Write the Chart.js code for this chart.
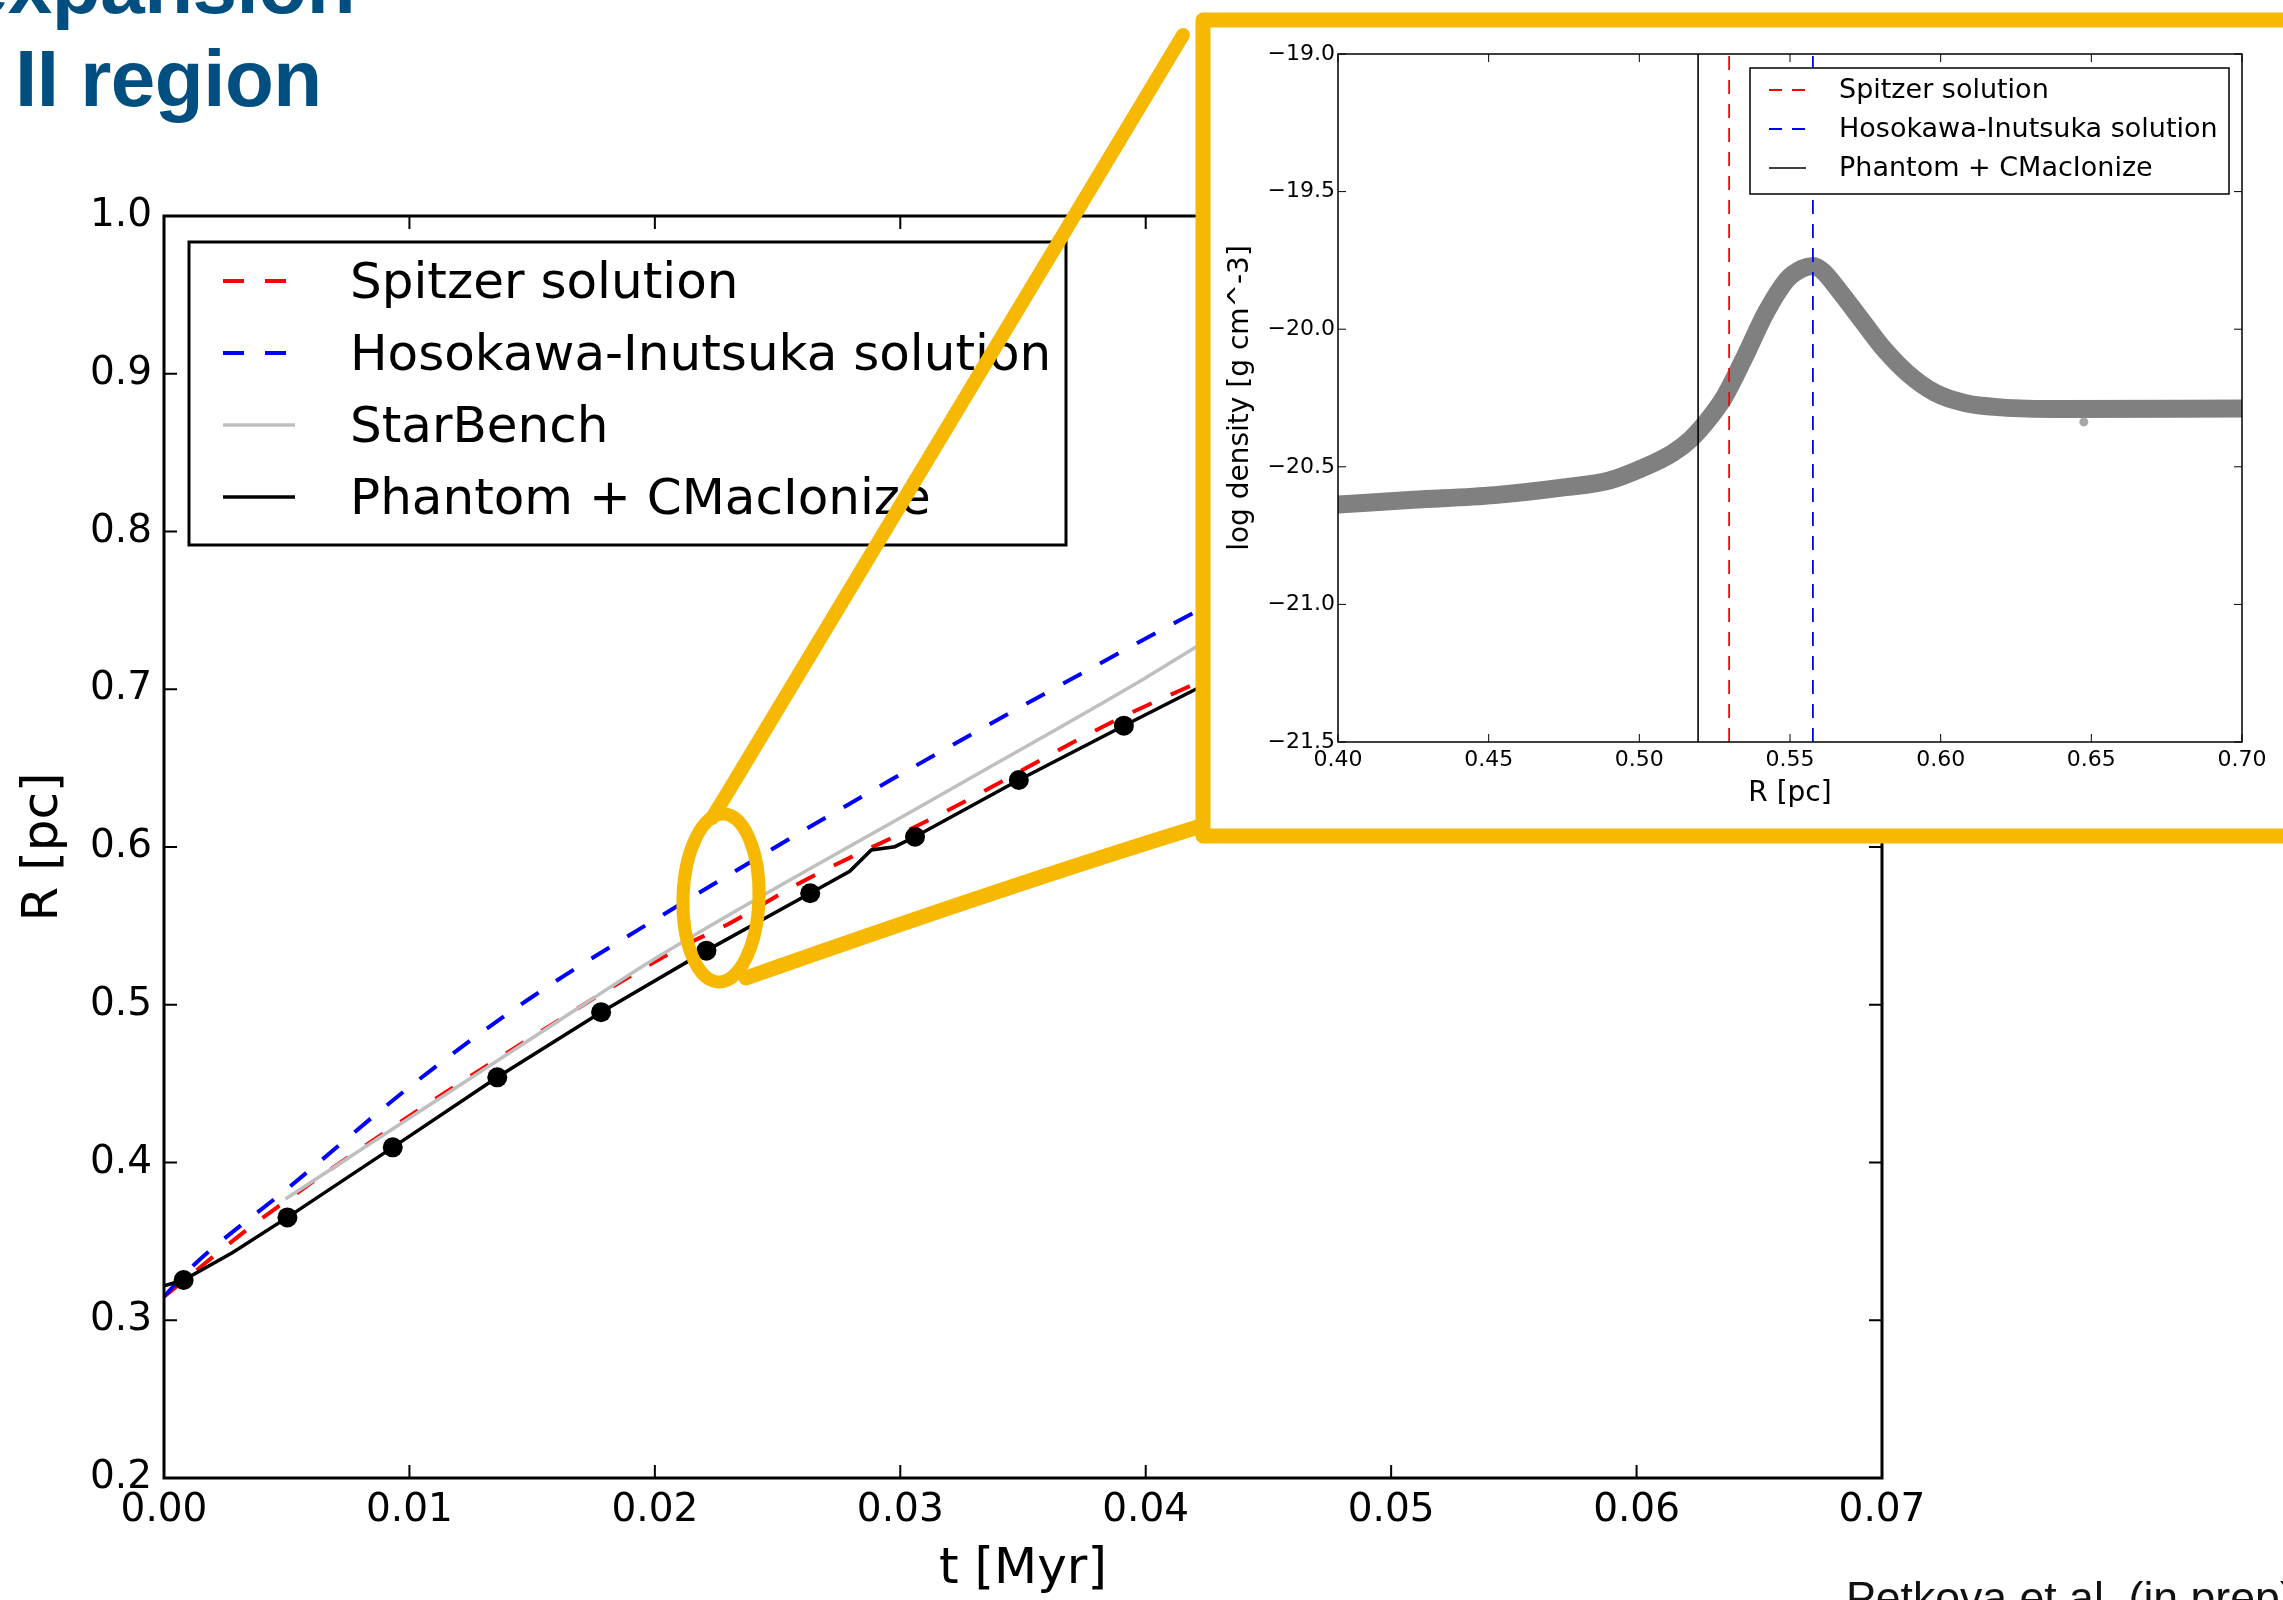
<!DOCTYPE html>
<html>
<head>
<meta charset="utf-8">
<script src="https://cdn.jsdelivr.net/npm/chart.js@4.4.1/dist/chart.umd.min.js"></script>
<style>
    body { margin: 0; width: 2283px; height: 1600px; overflow: hidden; background: #fff; position: relative; }
    canvas { position: absolute; }
    #main { left: 0; top: 0; }
    #inset { left: 1185px; top: 5px; }
    .slide-title { position: absolute; font-family: "Liberation Sans", Arial, sans-serif; font-weight: bold;
        font-size: 80px; line-height: 80px; letter-spacing: -0.5px; color: #004f80; white-space: nowrap; }
    #credit { position: absolute; left: 1846px; top: 1576px; font-family: "Liberation Sans", Arial, sans-serif;
        font-size: 44.6px; line-height: 44.6px; color: #111; white-space: nowrap; }
</style>
</head>
<body>
<canvas id="main" width="2283" height="1600"></canvas>
<canvas id="inset" width="1098" height="845"></canvas>
<div class="slide-title" style="right: 1928px; top: -54px;">expansion</div>
<div class="slide-title" style="left: 15px; top: 39px;">II region</div>
<div id="credit">Petkova et al. (in prep)</div>
<script>
// ---- main plot: shell radius R [pc] against t [Myr] ----
const spitzerT = [0, 0.0042, 0.0174, 0.0211, 0.0230, 0.0260, 0.0317, 0.0388, 0.0428];
const spitzerR = [0.315, 0.367, 0.503, 0.5368, 0.5512, 0.578, 0.6213, 0.6805, 0.709];

const hosokawaT = [0, 0.00109, 0.00509, 0.01024, 0.01481, 0.0202, 0.02957, 0.0414, 0.0430];
const hosokawaR = [0.315, 0.3332, 0.3842, 0.4508, 0.503, 0.5558, 0.6421, 0.7439, 0.757];

const starbenchT = [0.00495, 0.01738, 0.0198, 0.032, 0.03997, 0.0414, 0.0430];
const starbenchR = [0.3769, 0.503, 0.5273, 0.6361, 0.707, 0.7206, 0.736];

const phantomT = [0, 0.0008, 0.0028, 0.00503, 0.00932, 0.01358, 0.01781, 0.0221, 0.02633, 0.02794, 0.02882, 0.02978, 0.0306, 0.03483, 0.03911, 0.0434];
const phantomR = [0.3218, 0.3255, 0.3429, 0.3652, 0.4096, 0.4540, 0.4953, 0.5343, 0.5707, 0.5846, 0.5981, 0.6002, 0.6065, 0.6425, 0.6769, 0.7108];

// snapshots marked with dots
const markT = [0.0008, 0.00503, 0.00932, 0.01358, 0.01781, 0.0221, 0.02633, 0.0306, 0.03483, 0.03911];
const markR = [0.3255, 0.3652, 0.4096, 0.4540, 0.4953, 0.5343, 0.5707, 0.6065, 0.6425, 0.6769];

const mainXTicks = [0, 0.07, 0.01];
const mainYTicks = [0.2, 1.0, 0.1];

// ---- inset: density profile, log rho against R [pc] ----
const profileR = [0.400, 0.425, 0.452, 0.475, 0.490, 0.502, 0.511, 0.517, 0.522, 0.528, 0.535, 0.542, 0.549, 0.554, 0.5576,
    0.561, 0.567, 0.574, 0.581, 0.589, 0.598, 0.608, 0.620, 0.640, 0.700];
const profileRho = [-20.637, -20.62, -20.603, -20.575, -20.55, -20.50, -20.45, -20.40, -20.34, -20.25, -20.10, -19.94, -19.82, -19.78, -19.77,
    -19.79, -19.87, -19.97, -20.07, -20.16, -20.23, -20.268, -20.284, -20.29, -20.288];
const strayR = [0.6475];
const strayRho = [-20.337];

const frontSpitzer = 0.5298;
const frontHosokawa = 0.5576;
const frontPhantom = 0.5195;

const insetXTicks = [0.40, 0.70, 0.05];
const insetYTicks = [-21.5, -19.0, 0.5];

var red = "#ff0000";
var blue = "#0000ff";
var silver = "#bfbfbf";
var yellow = "#f6b800";

Chart.defaults.font.family = "'DejaVu Sans', sans-serif";
Chart.defaults.color = "#000";

const zip = (xs, ys) => xs.map((x, i) => ({ x: x, y: ys[i] }));
const vline = (x, range) => [{ x: x, y: range[0] }, { x: x, y: range[1] }];
const minus = (s) => s.replace("-", "\u2212");

// inward ticks on all four sides plus the box, matplotlib classic look
function drawFrame(chart, o) {
    const { ctx, chartArea: a, scales: { x, y } } = chart;
    ctx.save();
    ctx.strokeStyle = "#000";
    ctx.lineWidth = o.tickWidth;
    ctx.beginPath();
    for (const t of x.ticks) {
        let px = x.getPixelForValue(t.value);
        ctx.moveTo(px, a.bottom); ctx.lineTo(px, a.bottom - o.tickLen);
        ctx.moveTo(px, a.top); ctx.lineTo(px, a.top + o.tickLen);
    }
    for (const t of y.ticks) {
        let py = y.getPixelForValue(t.value);
        ctx.moveTo(a.left, py); ctx.lineTo(a.left + o.tickLen, py);
        ctx.moveTo(a.right, py); ctx.lineTo(a.right - o.tickLen, py);
    }
    ctx.stroke();
    ctx.lineWidth = o.frameWidth;
    ctx.strokeRect(a.left, a.top, a.right - a.left, a.bottom - a.top);
    ctx.restore();
}

function drawLegend(chart, o) {
    const ctx = chart.ctx;
    const items = chart.data.datasets.filter(d => d.inLegend).sort((a, b) => a.legendRank - b.legendRank);
    ctx.save();
    ctx.fillStyle = "#fff";
    ctx.fillRect(o.box[0], o.box[1], o.box[2], o.box[3]);
    ctx.strokeStyle = "#000";
    ctx.lineWidth = o.frameWidth;
    ctx.strokeRect(o.box[0], o.box[1], o.box[2], o.box[3]);
    ctx.font = o.font;
    ctx.textBaseline = "middle";
    items.forEach((d, i) => {
        let yy = o.rows[i];
        ctx.beginPath();
        ctx.setLineDash(d.legendDash || []);
        ctx.strokeStyle = d.borderColor;
        ctx.lineWidth = d.borderWidth;
        ctx.moveTo(o.lineX[0], yy);
        ctx.lineTo(o.lineX[1], yy);
        ctx.stroke();
        ctx.setLineDash([]);
        ctx.fillStyle = "#000";
        ctx.fillText(d.label, o.textX, yy + o.textDy);
    });
    ctx.restore();
}

// the hand drawn yellow loop around the zoomed region and the lines to the inset
function drawLoupe(ctx) {
    ctx.save();
    ctx.strokeStyle = yellow;
    ctx.lineCap = "round";
    ctx.lineJoin = "round";
    ctx.lineWidth = 13;
    ctx.beginPath();
    ctx.ellipse(721, 898, 38, 84, 0.03, 0, Math.PI * 2);
    ctx.stroke();
    ctx.lineWidth = 14;
    ctx.beginPath();
    ctx.moveTo(712, 818);
    ctx.lineTo(728, 792);
    ctx.lineTo(1183, 35);
    ctx.stroke();
    ctx.lineWidth = 15;
    ctx.beginPath();
    ctx.moveTo(746, 978);
    ctx.quadraticCurveTo(1010, 885, 1198, 827);
    ctx.stroke();
    ctx.restore();
}

const mainPlugin = {
    id: "mainDecor",
    afterDraw(chart) {
        drawFrame(chart, { tickLen: 13, tickWidth: 2, frameWidth: 3 });
        drawLegend(chart, {
            box: [189, 242, 877, 303], frameWidth: 3, font: "50px 'DejaVu Sans'",
            rows: [281, 353, 425, 497], lineX: [223, 295], textX: 350, textDy: 4
        });
        drawLoupe(chart.ctx);
    }
};

const mainChart = new Chart(document.getElementById("main"), {
    type: "line",
    data: {
        datasets: [
            {
                label: "snapshots", data: zip(markT, markR), showLine: false,
                pointRadius: 10, pointBackgroundColor: "#000", pointBorderWidth: 0
            },
            {
                label: "Phantom + CMacIonize", data: zip(phantomT, phantomR), borderColor: "#000",
                borderWidth: 3.5, pointRadius: 0, tension: 0, inLegend: true, legendRank: 4
            },
            {
                label: "StarBench", data: zip(starbenchT, starbenchR), borderColor: silver,
                borderWidth: 3.5, pointRadius: 0, cubicInterpolationMode: "monotone", inLegend: true, legendRank: 3
            },
            {
                label: "Hosokawa-Inutsuka solution", data: zip(hosokawaT, hosokawaR), borderColor: blue,
                borderWidth: 4, borderDash: [21, 21], legendDash: [21, 21], pointRadius: 0,
                cubicInterpolationMode: "monotone", inLegend: true, legendRank: 2
            },
            {
                label: "Spitzer solution", data: zip(spitzerT, spitzerR), borderColor: red,
                borderWidth: 4, borderDash: [21, 21], legendDash: [21, 21], pointRadius: 0,
                cubicInterpolationMode: "monotone", inLegend: true, legendRank: 1
            }
        ]
    },
    options: {
        responsive: false,
        animation: false,
        devicePixelRatio: 1,
        layout: { padding: { left: 0, top: 216, right: 401, bottom: 0 } },
        plugins: { legend: { display: false }, tooltip: { enabled: false } },
        scales: {
            x: {
                type: "linear", min: mainXTicks[0], max: mainXTicks[1],
                ticks: { stepSize: mainXTicks[2], padding: 9, maxRotation: 0, autoSkip: false,
                    font: { size: 39 }, callback: v => v.toFixed(2) },
                grid: { display: false, drawTicks: false },
                border: { display: false },
                title: { display: true, text: "t [Myr]", font: { size: 50 }, padding: { top: 0, bottom: 0 } },
                afterFit: s => { s.height = 122; }
            },
            y: {
                type: "linear", min: mainYTicks[0], max: mainYTicks[1],
                ticks: { stepSize: mainYTicks[2], padding: 12, autoSkip: false,
                    font: { size: 39 }, callback: v => v.toFixed(1) },
                grid: { display: false, drawTicks: false },
                border: { display: false },
                title: { display: true, text: "R [pc]", font: { size: 50 }, padding: { top: 14, bottom: 0 } },
                afterFit: s => { s.width = 164; }
            }
        }
    },
    plugins: [mainPlugin]
});

const insetPlugin = {
    id: "insetDecor",
    beforeDraw(chart) {
        const ctx = chart.ctx;
        ctx.save();
        ctx.fillStyle = "#fff";
        ctx.fillRect(18, 15, chart.width - 18, 816);
        ctx.restore();
    },
    afterDraw(chart) {
        drawFrame(chart, { tickLen: 8, tickWidth: 1, frameWidth: 1.5 });
        drawLegend(chart, {
            box: [565, 63, 479, 126], frameWidth: 1.5, font: "27px 'DejaVu Sans'",
            rows: [85, 124, 163], lineX: [584, 621], textX: 654, textDy: 1
        });
        const ctx = chart.ctx;
        ctx.save();
        ctx.strokeStyle = yellow;
        ctx.lineWidth = 15;
        ctx.lineJoin = "round";
        ctx.strokeRect(18, 15, chart.width + 40, 816);
        ctx.restore();
    }
};

const insetChart = new Chart(document.getElementById("inset"), {
    type: "line",
    data: {
        datasets: [
            {
                label: "Spitzer solution", data: vline(frontSpitzer, [insetYTicks[0], insetYTicks[1]]), borderColor: red,
                borderWidth: 1.8, borderDash: [14, 10], legendDash: [13, 10], pointRadius: 0, inLegend: true, legendRank: 1
            },
            {
                label: "Hosokawa-Inutsuka solution", data: vline(frontHosokawa, [insetYTicks[0], insetYTicks[1]]), borderColor: blue,
                borderWidth: 1.8, borderDash: [14, 10], legendDash: [13, 10], pointRadius: 0, inLegend: true, legendRank: 2
            },
            {
                label: "Phantom + CMacIonize", data: vline(frontPhantom, [insetYTicks[0], insetYTicks[1]]), borderColor: "#000",
                borderWidth: 1.6, pointRadius: 0, inLegend: true, legendRank: 3
            },
            {
                label: "stray", data: zip(strayR, strayRho), showLine: false,
                pointRadius: 4.5, pointBackgroundColor: "#a6a6a6", pointBorderWidth: 0
            },
            {
                label: "density", data: zip(profileR, profileRho), borderColor: "#808080",
                borderWidth: 18, pointRadius: 0, cubicInterpolationMode: "monotone",
                borderCapStyle: "round", borderJoinStyle: "round", clip: 0
            }
        ]
    },
    options: {
        responsive: false,
        animation: false,
        devicePixelRatio: 1,
        layout: { padding: { left: 0, top: 49, right: 41, bottom: 0 } },
        plugins: { legend: { display: false }, tooltip: { enabled: false } },
        scales: {
            x: {
                type: "linear", min: insetXTicks[0], max: insetXTicks[1],
                ticks: { stepSize: insetXTicks[2], padding: 5, maxRotation: 0, autoSkip: false,
                    font: { size: 22 }, callback: v => v.toFixed(2) },
                grid: { display: false, drawTicks: false },
                border: { display: false },
                title: { display: true, text: "R [pc]", font: { size: 28 }, padding: { top: 0, bottom: 39 } },
                afterFit: s => { s.height = 108; }
            },
            y: {
                type: "linear", min: insetYTicks[0], max: insetYTicks[1],
                ticks: { stepSize: insetYTicks[2], padding: 3, autoSkip: false,
                    font: { size: 22 }, callback: v => minus(v.toFixed(1)) },
                grid: { display: false, drawTicks: false },
                border: { display: false },
                title: { display: true, text: "log density [g cm^-3]", font: { size: 28 }, padding: { top: 39, bottom: 0 } },
                afterFit: s => { s.width = 153; }
            }
        }
    },
    plugins: [insetPlugin]
});
</script>
</body>
</html>
